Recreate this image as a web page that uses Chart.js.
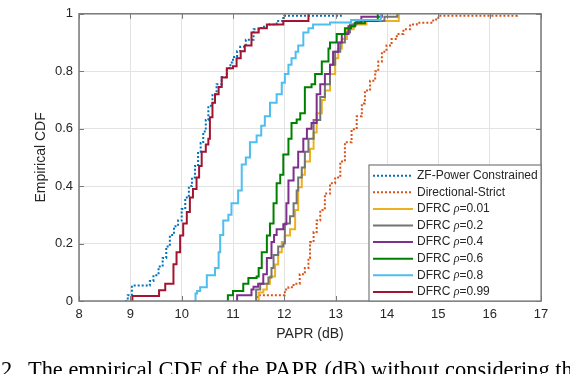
<!DOCTYPE html>
<html>
<head>
<meta charset="utf-8">
<script src="https://cdn.jsdelivr.net/npm/chart.js@4/dist/chart.umd.min.js"></script>
<style>
  html, body { margin: 0; padding: 0; background: #fff; }
  #wrap { position: relative; width: 570px; height: 374px; overflow: hidden; }
  #cv { position: absolute; left: 0; top: 0; }
  .caption { position: absolute; top: 359px; font-family: "Liberation Serif", serif; font-size: 22.4px; line-height: 22px; color: #000; white-space: nowrap; }
</style>
</head>
<body>
<div id="wrap">
  <canvas id="cv" width="570" height="374"></canvas>
  <div class="caption" style="left:1px">2.</div>
  <div class="caption" style="left:28px">The empirical CDF of the PAPR (dB) without considering th</div>
</div>
<script>
// axis ticks
const xTicks = [8, 9, 10, 11, 12, 13, 14, 15, 16, 17];
const yTicks = [0, 0.2, 0.4, 0.6, 0.8, 1];
const yTickLabels = ['0', '0.2', '0.4', '0.6', '0.8', '1'];

// series labels
const labels = ['ZF-Power Constrained', 'Directional-Strict', 'DFRC \u03c1=0.01', 'DFRC \u03c1=0.2',
  'DFRC \u03c1=0.4', 'DFRC \u03c1=0.6', 'DFRC \u03c1=0.8', 'DFRC \u03c1=0.99'];

// empirical CDF steps: PAPR (dB) and CDF value reached at that PAPR
const zfX = [8.9, 8.95, 9.03, 9.38, 9.45, 9.55, 9.63, 9.7, 9.77, 9.85, 9.93, 10.0, 10.07, 10.14, 10.2, 10.26, 10.32, 10.37, 10.42, 10.47, 10.52, 10.6, 10.68, 10.78, 10.88, 10.95, 11.0, 11.08, 11.14, 11.25, 11.4, 11.55, 11.66, 11.85, 11.98, 12.0, 13.1];
const zfY = [0, 0.02, 0.054, 0.07, 0.09, 0.12, 0.15, 0.19, 0.23, 0.26, 0.28, 0.32, 0.36, 0.4, 0.43, 0.47, 0.52, 0.55, 0.59, 0.63, 0.68, 0.72, 0.755, 0.78, 0.81, 0.83, 0.85, 0.87, 0.885, 0.91, 0.946, 0.955, 0.963, 0.975, 0.99, 0.993, 1.0];

const dsX = [11.46, 11.48, 12.01, 12.08, 12.18, 12.3, 12.4, 12.47, 12.5, 12.57, 12.63, 12.7, 12.79, 12.89, 12.99, 13.09, 13.18, 13.31, 13.41, 13.51, 13.57, 13.67, 13.77, 13.83, 13.9, 13.99, 14.09, 14.19, 14.32, 14.45, 14.58, 14.9, 15.0, 16.53];
const dsY = [0, 0.02, 0.04, 0.048, 0.06, 0.093, 0.115, 0.15, 0.205, 0.24, 0.28, 0.317, 0.374, 0.41, 0.43, 0.486, 0.553, 0.598, 0.643, 0.688, 0.733, 0.767, 0.8, 0.834, 0.868, 0.89, 0.912, 0.93, 0.946, 0.963, 0.969, 0.98, 0.993, 1.0];

const r001X = [11.49, 11.5, 11.59, 11.66, 11.72, 11.82, 11.88, 11.95, 12.01, 12.11, 12.21, 12.27, 12.34, 12.4, 12.5, 12.57, 12.63, 12.73, 12.79, 12.89, 12.99, 13.05, 13.12, 13.22, 13.35, 13.6, 14.23];
const r001Y = [0, 0.03, 0.04, 0.06, 0.085, 0.127, 0.17, 0.205, 0.228, 0.25, 0.317, 0.396, 0.44, 0.486, 0.53, 0.587, 0.654, 0.7, 0.733, 0.79, 0.845, 0.879, 0.912, 0.946, 0.963, 0.975, 1.0];

const r02X = [11.43, 11.45, 11.53, 11.69, 11.75, 11.79, 11.88, 11.98, 12.01, 12.11, 12.18, 12.24, 12.27, 12.34, 12.4, 12.47, 12.57, 12.7, 12.79, 12.89, 12.99, 13.09, 13.18, 13.28, 13.4, 13.95, 14.2];
const r02Y = [0, 0.04, 0.06, 0.082, 0.115, 0.16, 0.19, 0.2, 0.27, 0.295, 0.34, 0.385, 0.43, 0.465, 0.52, 0.565, 0.63, 0.71, 0.755, 0.823, 0.868, 0.9, 0.935, 0.963, 0.975, 0.99, 1.0];

const r04X = [11.07, 11.08, 11.36, 11.4, 11.49, 11.59, 11.66, 11.75, 11.8, 11.85, 11.98, 12.04, 12.08, 12.18, 12.27, 12.37, 12.44, 12.53, 12.63, 12.7, 12.79, 12.89, 12.95, 13.05, 13.12, 13.25, 13.38, 13.5, 13.9];
const r04Y = [0, 0.02, 0.04, 0.05, 0.06, 0.093, 0.15, 0.205, 0.23, 0.25, 0.267, 0.34, 0.42, 0.465, 0.52, 0.565, 0.6, 0.62, 0.72, 0.755, 0.79, 0.823, 0.868, 0.9, 0.93, 0.957, 0.969, 0.99, 1.0];

const r06X = [10.88, 10.9, 11.0, 11.2, 11.3, 11.46, 11.5, 11.56, 11.66, 11.72, 11.79, 11.85, 11.92, 11.98, 12.08, 12.14, 12.24, 12.31, 12.4, 12.53, 12.6, 12.73, 12.86, 12.89, 13.02, 13.18, 13.3, 13.37, 13.57, 13.82];
const r06Y = [0, 0.02, 0.035, 0.06, 0.08, 0.085, 0.115, 0.17, 0.228, 0.27, 0.34, 0.41, 0.44, 0.51, 0.565, 0.62, 0.632, 0.654, 0.744, 0.755, 0.79, 0.834, 0.879, 0.9, 0.93, 0.95, 0.957, 0.967, 0.975, 1.0];

const r08X = [10.25, 10.27, 10.3, 10.36, 10.49, 10.65, 10.72, 10.75, 10.81, 10.91, 10.97, 11.1, 11.17, 11.25, 11.33, 11.46, 11.55, 11.62, 11.72, 11.85, 11.95, 12.01, 12.08, 12.14, 12.22, 12.27, 12.37, 12.47, 12.56, 12.89, 13.3, 13.88];
const r08Y = [0, 0.026, 0.035, 0.048, 0.09, 0.115, 0.17, 0.23, 0.28, 0.3, 0.34, 0.385, 0.475, 0.5, 0.553, 0.576, 0.61, 0.643, 0.69, 0.72, 0.76, 0.79, 0.823, 0.845, 0.868, 0.89, 0.935, 0.95, 0.963, 0.97, 0.978, 1.0];

const r099X = [9.03, 9.04, 9.56, 9.68, 9.84, 9.9, 9.97, 10.03, 10.1, 10.16, 10.22, 10.29, 10.34, 10.39, 10.47, 10.52, 10.55, 10.6, 10.65, 10.72, 10.78, 10.88, 11.0, 11.07, 11.15, 11.23, 11.36, 11.5, 11.66, 11.98, 12.47];
const r099Y = [0, 0.017, 0.037, 0.06, 0.128, 0.17, 0.228, 0.27, 0.31, 0.36, 0.39, 0.43, 0.47, 0.52, 0.545, 0.565, 0.64, 0.69, 0.72, 0.745, 0.778, 0.81, 0.817, 0.845, 0.87, 0.89, 0.935, 0.95, 0.963, 0.975, 1.0];

const seriesX = [zfX, dsX, r001X, r02X, r04X, r06X, r08X, r099X];
const seriesY = [zfY, dsY, r001Y, r02Y, r04Y, r06Y, r08Y, r099Y];
const colors = ['#0072BD', '#D95319', '#EDB120', '#747474', '#7E2F8E', '#008000', '#4DBEEE', '#A2142F'];
const dashed = [true, true, false, false, false, false, false, false];

const textColor = '#262626';
const gridColor = '#e3e3e3';
const boxColor = '#7a7a7a';
Chart.defaults.font.family = '"Liberation Sans", Arial, sans-serif';

const datasets = labels.map((label, i) => ({
  label,
  data: seriesX[i].map((x, j) => ({ x, y: seriesY[i][j] })),
  borderColor: colors[i],
  backgroundColor: colors[i],
  borderWidth: 2,
  borderDash: dashed[i] ? [2, 2] : [],
  stepped: true,
  pointRadius: 0,
  fill: false,
  order: -i
}));

// MATLAB style box with inward ticks
const axesBox = {
  id: 'axesBox',
  afterDatasetsDraw(chart) {
    const { ctx, chartArea: a, scales: { x, y } } = chart;
    ctx.save();
    ctx.strokeStyle = boxColor;
    ctx.lineWidth = 1;
    ctx.beginPath();
    x.ticks.forEach(t => {
      const px = Math.round(x.getPixelForValue(t.value)) + 0.5;
      ctx.moveTo(px, a.bottom); ctx.lineTo(px, a.bottom - 5);
      ctx.moveTo(px, a.top); ctx.lineTo(px, a.top + 5);
    });
    y.ticks.forEach(t => {
      const py = Math.round(y.getPixelForValue(t.value)) + 0.5;
      ctx.moveTo(a.left, py); ctx.lineTo(a.left + 5, py);
      ctx.moveTo(a.right, py); ctx.lineTo(a.right - 5, py);
    });
    ctx.stroke();
    ctx.lineWidth = 1.5;
    ctx.strokeRect(a.left, a.top, a.right - a.left, a.bottom - a.top);
    ctx.restore();
  }
};

// legend inside the axes, lower right
const boxLegend = {
  id: 'boxLegend',
  afterDraw(chart) {
    const { ctx, chartArea: a } = chart;
    const left = 369, top = 165, right = a.right, bottom = a.bottom;
    ctx.save();
    ctx.fillStyle = '#fff';
    ctx.fillRect(left, top, right - left, bottom - top);
    ctx.strokeStyle = boxColor;
    ctx.lineWidth = 1.2;
    ctx.strokeRect(left, top, right - left, bottom - top);
    ctx.textBaseline = 'middle';
    chart.data.datasets.forEach((ds, i) => {
      const cy = 175.7 + i * 16.6;
      ctx.strokeStyle = ds.borderColor;
      ctx.lineWidth = ds.borderWidth;
      ctx.setLineDash(ds.borderDash);
      ctx.beginPath();
      ctx.moveTo(373, cy);
      ctx.lineTo(413, cy);
      ctx.stroke();
      ctx.setLineDash([]);
      ctx.fillStyle = textColor;
      let tx = 417;
      const parts = ds.label.split('\u03c1');
      ctx.font = '12px "Liberation Sans", Arial, sans-serif';
      ctx.fillText(parts[0], tx, cy);
      if (parts.length > 1) {
        tx += ctx.measureText(parts[0]).width;
        ctx.font = 'italic 12px "Liberation Serif", serif';
        ctx.fillText('\u03c1', tx, cy);
        tx += ctx.measureText('\u03c1').width;
        ctx.font = '12px "Liberation Sans", Arial, sans-serif';
        ctx.fillText(parts[1], tx, cy);
      }
    });
    ctx.restore();
  }
};

new Chart(document.getElementById('cv'), {
  type: 'line',
  data: { datasets },
  plugins: [axesBox, boxLegend],
  options: {
    responsive: false,
    animation: false,
    devicePixelRatio: 1,
    layout: { padding: { top: 4, right: 29, left: 0, bottom: 0 } },
    plugins: { legend: { display: false }, tooltip: { enabled: false } },
    scales: {
      x: {
        type: 'linear',
        min: 8,
        max: 17,
        afterFit: s => { s.height = 73; },
        afterBuildTicks: s => { s.ticks = xTicks.map(v => ({ value: v })); },
        ticks: { padding: 6, color: textColor, font: { size: 13 }, maxRotation: 0, callback: v => String(v) },
        grid: { color: gridColor, drawTicks: false },
        border: { display: false },
        title: { display: true, text: 'PAPR (dB)', color: textColor, font: { size: 14 }, padding: { top: 0, bottom: 31 } }
      },
      y: {
        type: 'linear',
        min: 0,
        max: 1,
        afterFit: s => { s.width = 79; },
        afterBuildTicks: s => { s.ticks = yTicks.map(v => ({ value: v })); },
        ticks: { padding: 6, color: textColor, font: { size: 13 }, callback: (v, i) => yTickLabels[i] },
        grid: { color: gridColor, drawTicks: false },
        border: { display: false },
        title: { display: true, text: 'Empirical CDF', color: textColor, font: { size: 14 }, padding: { top: 33, bottom: 0 } }
      }
    }
  }
});
</script>
</body>
</html>
